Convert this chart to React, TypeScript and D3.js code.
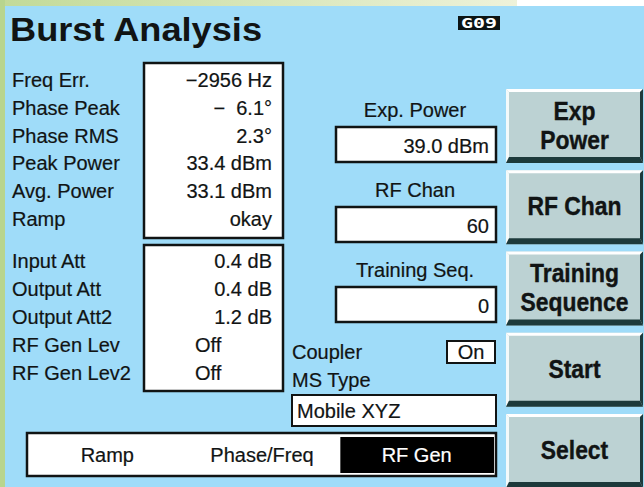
import React from "react";
import * as d3 from "d3";

const titleText = "Burst Analysis";
const badgeText = "G09";
const measLabels = ["Freq Err.", "Phase Peak", "Phase RMS", "Peak Power", "Avg. Power", "Ramp"];
const measValues = ["\u22122956 Hz", "\u2212  6.1\u00b0", "2.3\u00b0", "33.4 dBm", "33.1 dBm", "okay"];
const attLabels = ["Input Att", "Output Att", "Output Att2", "RF Gen Lev", "RF Gen Lev2"];
const attValues = ["0.4 dB", "0.4 dB", "1.2 dB", "Off", "Off"];
const paramLabels = ["Exp. Power", "RF Chan", "Training Seq."];
const paramValues = ["39.0 dBm", "60", "0"];
const softkeys = [["Exp", "Power"], ["RF Chan"], ["Training", "Sequence"], ["Start"], ["Select"]];
const tabs = ["Ramp", "Phase/Freq", "RF Gen"];
const activeTab = "RF Gen";
const couplerLabel = "Coupler";
const couplerValue = "On";
const msTypeLabel = "MS Type";
const msTypeValue = "Mobile XYZ";

const W = 644;
const H = 487;
const BG = "#9fdcf9";
const INK = "#111414";
const FONT = "'Liberation Sans', Arial, Helvetica, sans-serif";

function SoftKey({ x, y, w, h, lines }: { x: number; y: number; w: number; h: number; lines: string[] }) {
  const t = 3;
  const b = 6;
  const r = 3;
  const lineY = d3.scaleLinear().domain([0, Math.max(1, lines.length - 1)]).range(lines.length > 1 ? [-14, 15] : [0, 0]);
  const cy = y + (h - b) / 2 + 2;
  const cx = x + w / 2;
  return (
    <g>
      <rect x={x} y={y} width={w} height={h} fill="#bcd2d3" />
      <polygon points={`${x},${y} ${x + w},${y} ${x + w - r},${y + t} ${x + t},${y + t}`} fill="#ffffff" />
      <polygon points={`${x},${y} ${x + t},${y + t} ${x + t},${y + h - b} ${x},${y + h}`} fill="#f4fafa" />
      <polygon points={`${x},${y + h} ${x + t},${y + h - b} ${x + w - r},${y + h - b} ${x + w},${y + h}`} fill="#1d3a3b" />
      <polygon points={`${x + w},${y} ${x + w},${y + h} ${x + w - r},${y + h - b} ${x + w - r},${y + t}`} fill="#1d3a3b" />
      {lines.map((ln, i) => (
        <text
          key={i}
          x={cx}
          y={cy + lineY(i) + 9}
          textAnchor="middle"
          fontFamily={FONT}
          fontWeight="bold"
          fontSize={26}
          fill={INK}
          stroke={INK}
          strokeWidth={0.4}
          transform={`translate(${cx},0) scale(0.88,1) translate(${-cx},0)`}
        >
          {ln}
        </text>
      ))}
    </g>
  );
}

export default function App() {
  const measY = d3.scaleLinear().domain([0, measLabels.length - 1]).range([87, 226]);
  const attY = d3.scaleLinear().domain([0, attLabels.length - 1]).range([268, 380]);
  const paramY = d3.scaleLinear().domain([0, paramLabels.length - 1]).range([117, 277]);
  const keyY = d3.scaleLinear().domain([0, softkeys.length - 1]).range([89, 414]);
  const tabX = d3.scaleBand().domain(tabs).range([30, 494]);

  const txt = { fontFamily: FONT, fontSize: 20, fill: INK, stroke: INK, strokeWidth: 0.2 } as const;

  return (
    <svg
      width={W}
      height={H}
      viewBox={`0 0 ${W} ${H}`}
      style={{ position: "absolute", left: 0, top: 0, display: "block" }}
    >
      <defs>
        <linearGradient id="topStrip" x1="0" x2="1" y1="0" y2="0">
          <stop offset="0" stopColor="#c2da98" />
          <stop offset="1" stopColor="#eef2da" />
        </linearGradient>
      </defs>
      <rect x={0} y={0} width={W} height={H} fill={BG} />
      <rect x={0} y={0} width={517} height={6} fill="url(#topStrip)" />
      <rect x={517} y={0} width={W - 517} height={6} fill="#ffffff" />
      <rect x={0} y={0} width={5} height={H} fill="#b8d58e" />

      {/* title */}
      <text x={10} y={41} fontFamily={FONT} fontWeight="bold" fontSize={33} fill={INK} textLength={252} lengthAdjust="spacingAndGlyphs">
        {titleText}
      </text>
      <rect x={458} y={16} width={42} height={14} fill="#0c1414" />
      <text
        x={461}
        y={28}
        fontFamily="'DejaVu Sans Mono', monospace"
        fontWeight="bold"
        fontSize={13.5}
        fill="#ffffff"
        textLength={36}
        lengthAdjust="spacingAndGlyphs"
      >
        {badgeText}
      </text>

      {/* measurement box */}
      <rect x={144} y={63} width={139} height={175} fill="#ffffff" stroke={INK} strokeWidth={2.5} />
      {measLabels.map((l, i) => (
        <text key={l} x={12} y={measY(i)} {...txt}>
          {l}
        </text>
      ))}
      {measValues.map((v, i) => (
        <text key={i} x={272} y={measY(i)} textAnchor="end" {...txt} style={{ whiteSpace: "pre" }}>
          {v}
        </text>
      ))}

      {/* attenuation box */}
      <rect x={144} y={245} width={139} height={146} fill="#ffffff" stroke={INK} strokeWidth={2.5} />
      {attLabels.map((l, i) => (
        <text key={l} x={12} y={attY(i)} {...txt}>
          {l}
        </text>
      ))}
      {attValues.map((v, i) => {
        const numeric = /\d/.test(v);
        return (
          <text key={i} x={numeric ? 272 : 195} y={attY(i)} textAnchor={numeric ? "end" : "start"} {...txt}>
            {v}
          </text>
        );
      })}

      {/* parameter fields */}
      {paramLabels.map((l, i) => (
        <g key={l}>
          <text x={415} y={paramY(i)} textAnchor="middle" {...txt}>
            {l}
          </text>
          <rect x={336} y={paramY(i) + 10} width={160} height={35} fill="#ffffff" stroke={INK} strokeWidth={2.5} />
          <text x={489} y={paramY(i) + 36} textAnchor="end" {...txt}>
            {paramValues[i]}
          </text>
        </g>
      ))}

      {/* coupler / ms type */}
      <text x={292} y={359} {...txt}>
        {couplerLabel}
      </text>
      <rect x={447} y={341} width={48} height={22} fill="#ffffff" stroke={INK} strokeWidth={2} />
      <text x={471} y={359} textAnchor="middle" {...txt}>
        {couplerValue}
      </text>
      <text x={292} y={387} {...txt}>
        {msTypeLabel}
      </text>
      <rect x={292} y={395} width={204} height={31} fill="#ffffff" stroke={INK} strokeWidth={2} />
      <text x={297} y={418} {...txt}>
        {msTypeValue}
      </text>

      {/* tab bar */}
      <rect x={27} y={433} width={469} height={43} fill="#ffffff" stroke={INK} strokeWidth={2.5} />
      {tabs.map((t) => {
        const active = t === activeTab;
        const x0 = tabX(t) as number;
        return (
          <g key={t}>
            {active && <rect x={x0 + 1} y={437} width={tabX.bandwidth() - 1} height={36} fill="#000000" />}
            <text
              x={x0 + tabX.bandwidth() / 2}
              y={462}
              textAnchor="middle"
              {...txt}
              fill={active ? "#ffffff" : INK}
              stroke={active ? "#ffffff" : INK}
            >
              {t}
            </text>
          </g>
        );
      })}

      {/* soft keys */}
      {softkeys.map((lines, i) => (
        <SoftKey key={i} x={506} y={keyY(i)} w={137} h={74} lines={lines} />
      ))}
    </svg>
  );
}
